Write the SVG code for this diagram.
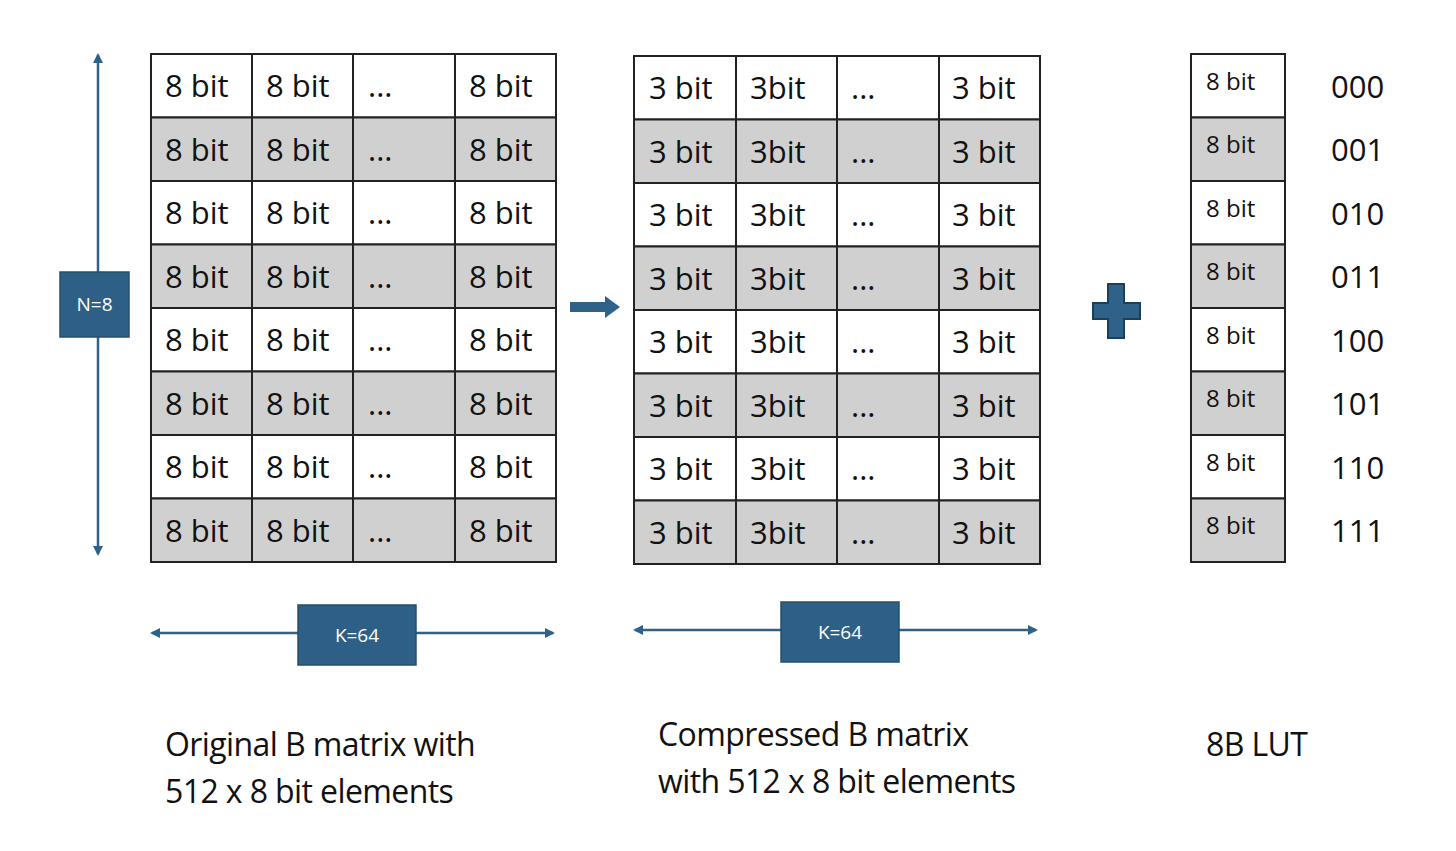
<svg xmlns="http://www.w3.org/2000/svg" width="1456" height="851" viewBox="0 0 1456 851">
<style>
.c{stroke:#222;stroke-width:2}
.w{fill:#fff}.g{fill:#d0d0d0}
text{font-family:"Open Sans","Liberation Sans",sans-serif;fill:#111}
.t{font-size:31px}
.s{font-size:24px}
.b{fill:#2e5f86;stroke:#24506f;stroke-width:1.5}
.bl{font-size:19px;fill:#fff}
.ln{stroke:#2e6288;stroke-width:2.5;fill:none}
.lab{font-size:32px;letter-spacing:-0.6px}
</style>
<defs>
<marker id="ah" markerWidth="10" markerHeight="10" refX="8" refY="5" orient="auto" markerUnits="userSpaceOnUse"><path d="M0,0 L10,5 L0,10 z" fill="#2e6288"/></marker>
<g id="rowL"><rect class="c" x="151" y="0" width="101" height="63.5"/><rect class="c" x="252" y="0" width="101" height="63.5"/><rect class="c" x="353" y="0" width="102" height="63.5"/><rect class="c" x="455" y="0" width="101" height="63.5"/></g>
<g id="rowM"><rect class="c" x="634" y="0" width="102" height="63.5"/><rect class="c" x="736" y="0" width="101" height="63.5"/><rect class="c" x="837" y="0" width="102" height="63.5"/><rect class="c" x="939" y="0" width="101" height="63.5"/></g>
</defs>
<rect width="1456" height="851" fill="#fff"/>
<g id="matrixB">
<g class="w"><use href="#rowL" y="54"/></g><g class="g"><use href="#rowL" y="117.5"/></g><g class="w"><use href="#rowL" y="181"/></g><g class="g"><use href="#rowL" y="244.5"/></g><g class="w"><use href="#rowL" y="308"/></g><g class="g"><use href="#rowL" y="371.5"/></g><g class="w"><use href="#rowL" y="435"/></g><g class="g"><use href="#rowL" y="498.5"/></g>
<g class="t">
<text x="165" y="97">8 bit</text><text x="266" y="97">8 bit</text><text x="368" y="97">...</text><text x="469" y="97">8 bit</text>
<text x="165" y="161">8 bit</text><text x="266" y="161">8 bit</text><text x="368" y="161">...</text><text x="469" y="161">8 bit</text>
<text x="165" y="224">8 bit</text><text x="266" y="224">8 bit</text><text x="368" y="224">...</text><text x="469" y="224">8 bit</text>
<text x="165" y="288">8 bit</text><text x="266" y="288">8 bit</text><text x="368" y="288">...</text><text x="469" y="288">8 bit</text>
<text x="165" y="351">8 bit</text><text x="266" y="351">8 bit</text><text x="368" y="351">...</text><text x="469" y="351">8 bit</text>
<text x="165" y="415">8 bit</text><text x="266" y="415">8 bit</text><text x="368" y="415">...</text><text x="469" y="415">8 bit</text>
<text x="165" y="478">8 bit</text><text x="266" y="478">8 bit</text><text x="368" y="478">...</text><text x="469" y="478">8 bit</text>
<text x="165" y="542">8 bit</text><text x="266" y="542">8 bit</text><text x="368" y="542">...</text><text x="469" y="542">8 bit</text>
</g>
</g>
<g id="matrixC">
<g class="w"><use href="#rowM" y="56"/></g><g class="g"><use href="#rowM" y="119.5"/></g><g class="w"><use href="#rowM" y="183"/></g><g class="g"><use href="#rowM" y="246.5"/></g><g class="w"><use href="#rowM" y="310"/></g><g class="g"><use href="#rowM" y="373.5"/></g><g class="w"><use href="#rowM" y="437"/></g><g class="g"><use href="#rowM" y="500.5"/></g>
<g class="t">
<text x="649" y="99">3 bit</text><text x="750" y="99">3bit</text><text x="851" y="99">...</text><text x="952" y="99">3 bit</text>
<text x="649" y="163">3 bit</text><text x="750" y="163">3bit</text><text x="851" y="163">...</text><text x="952" y="163">3 bit</text>
<text x="649" y="226">3 bit</text><text x="750" y="226">3bit</text><text x="851" y="226">...</text><text x="952" y="226">3 bit</text>
<text x="649" y="290">3 bit</text><text x="750" y="290">3bit</text><text x="851" y="290">...</text><text x="952" y="290">3 bit</text>
<text x="649" y="353">3 bit</text><text x="750" y="353">3bit</text><text x="851" y="353">...</text><text x="952" y="353">3 bit</text>
<text x="649" y="417">3 bit</text><text x="750" y="417">3bit</text><text x="851" y="417">...</text><text x="952" y="417">3 bit</text>
<text x="649" y="480">3 bit</text><text x="750" y="480">3bit</text><text x="851" y="480">...</text><text x="952" y="480">3 bit</text>
<text x="649" y="544">3 bit</text><text x="750" y="544">3bit</text><text x="851" y="544">...</text><text x="952" y="544">3 bit</text>
</g>
</g>
<g id="lut">
<rect class="c w" x="1191" y="54" width="94" height="63.5"/><rect class="c g" x="1191" y="117.5" width="94" height="63.5"/><rect class="c w" x="1191" y="181" width="94" height="63.5"/><rect class="c g" x="1191" y="244.5" width="94" height="63.5"/><rect class="c w" x="1191" y="308" width="94" height="63.5"/><rect class="c g" x="1191" y="371.5" width="94" height="63.5"/><rect class="c w" x="1191" y="435" width="94" height="63.5"/><rect class="c g" x="1191" y="498.5" width="94" height="63.5"/>
<g class="s">
<text x="1206" y="90">8 bit</text><text x="1206" y="153">8 bit</text><text x="1206" y="217">8 bit</text><text x="1206" y="280">8 bit</text><text x="1206" y="344">8 bit</text><text x="1206" y="407">8 bit</text><text x="1206" y="471">8 bit</text><text x="1206" y="534">8 bit</text>
</g>
<g class="t">
<text x="1331" y="98">000</text><text x="1331" y="161">001</text><text x="1331" y="225">010</text><text x="1331" y="288">011</text><text x="1331" y="352">100</text><text x="1331" y="415">101</text><text x="1331" y="479">110</text><text x="1331" y="542">111</text>
</g>
</g>
<g id="connectors">
<line class="ln" x1="98" y1="272" x2="98" y2="55" marker-end="url(#ah)"/>
<line class="ln" x1="98" y1="337" x2="98" y2="554" marker-end="url(#ah)"/>
<line class="ln" x1="298" y1="633" x2="152" y2="633" marker-end="url(#ah)"/>
<line class="ln" x1="416" y1="633" x2="553" y2="633" marker-end="url(#ah)"/>
<line class="ln" x1="781" y1="630" x2="635" y2="630" marker-end="url(#ah)"/>
<line class="ln" x1="899" y1="630" x2="1036" y2="630" marker-end="url(#ah)"/>
</g>
<g id="n8"><rect class="b" x="60" y="272" width="69" height="65"/><text class="bl" x="94.5" y="311" text-anchor="middle">N=8</text></g>
<g id="k64a"><rect class="b" x="298" y="605" width="118" height="60"/><text class="bl" x="357" y="642" text-anchor="middle">K=64</text></g>
<g id="k64b"><rect class="b" x="781" y="602" width="118" height="60"/><text class="bl" x="840" y="639" text-anchor="middle">K=64</text></g>
<g id="arrow"><path d="M570,302 H605 V296 L620,307 L605,318 V312 H570 Z" fill="#2e6288"/></g>
<g id="plus"><path d="M1108,284 H1124 V303 H1140 V319 H1124 V338 H1108 V319 H1093 V303 H1108 Z" fill="#2e6288" stroke="#1c3f5a" stroke-width="2"/></g>
<g id="labels" class="lab">
<text x="165" y="756">Original B matrix with</text><text x="165" y="803">512 x 8 bit elements</text>
<text x="658" y="746">Compressed B matrix</text><text x="658" y="793">with 512 x 8 bit elements</text>
<text x="1206" y="756">8B LUT</text>
</g>
</svg>
